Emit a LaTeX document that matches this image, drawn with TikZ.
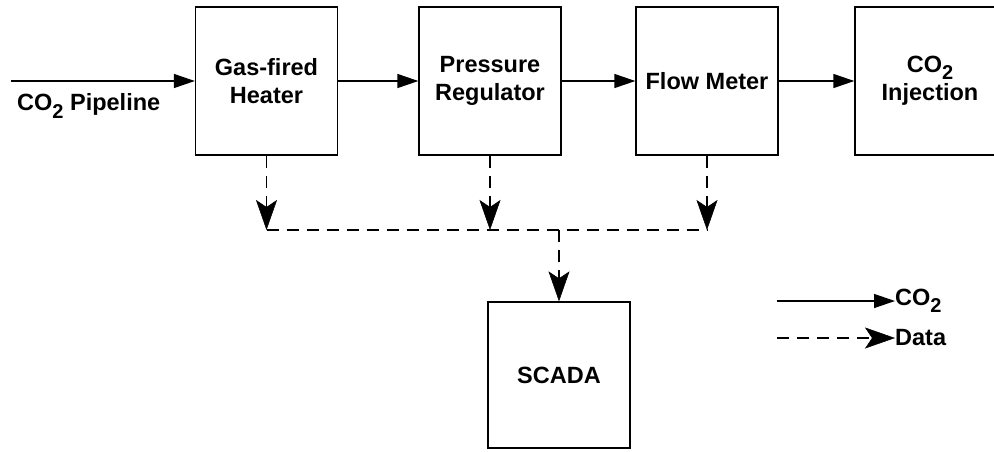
\documentclass[tikz,border=0pt]{standalone}
\usepackage{fontspec}
\setmainfont{Liberation Sans}
\usetikzlibrary{arrows.meta}
\newcommand{\cotwo}{CO\raisebox{-0.3em}{\fontsize{20}{20}\selectfont 2}}

\begin{document}
\begin{tikzpicture}[x=1pt,y=-1pt,
  unit/.style={shape=rectangle,draw=black,line width=1.3pt,minimum width=142pt,minimum height=148pt,align=center,inner sep=0pt},
  co2flow/.style={draw=black,line width=1.3pt,-{Triangle[length=21pt,width=14pt]}},
  dataflow/.style={draw=black,line width=1.3pt,dash pattern=on 12pt off 8pt,-{Stealth[length=30pt,width=21pt,inset=7pt,line width=0.5pt,fill=black]}},
  databus/.style={draw=black,line width=1.3pt,dash pattern=on 12pt off 8pt},
  every node/.style={font=\fontsize{23.5}{28}\selectfont\bfseries}]
\useasboundingbox (0,0) rectangle (994,451);

\node[unit] (heater) at (266.5,81) {Gas-fired\\Heater};
\node[unit] (regulator) at (490,81) {Pressure\\Regulator};
\node[unit] (meter) at (707,81) {Flow Meter};
\node[unit,minimum width=150pt] (injection) at (930,81) {\cotwo\\Injection};
\node[unit,minimum height=146pt] (scada) at (559,375) {SCADA};

\coordinate (pipein) at (11,81);
\node[anchor=west,inner sep=0pt] (pipelabel) at (17,106) {\cotwo{} Pipeline};

\draw[co2flow] (pipein) -- (heater.west);
\draw[co2flow] (heater.east) -- (regulator.west);
\draw[co2flow] (regulator.east) -- (meter.west);
\draw[co2flow] (meter.east) -- (injection.west);

\coordinate (bus) at (0,230);
\coordinate (busheater) at (heater.south |- bus);
\coordinate (busregulator) at (regulator.south |- bus);
\coordinate (busmeter) at (meter.south |- bus);
\coordinate (busscada) at (scada.north |- bus);

\draw[dataflow] (heater.south) -- (busheater);
\draw[dataflow] (regulator.south) -- (busregulator);
\draw[dataflow] (meter.south) -- (busmeter);
\draw[databus] (busheater) -- (busmeter);
\draw[dataflow] (busscada) -- (scada.north);

\node[anchor=west,inner sep=0pt] (legco2) at (895,301) {\cotwo};
\node[anchor=west,inner sep=0pt] (legdata) at (895,338) {Data};
\coordinate (legco2start) at (777,301);
\coordinate (legdatastart) at (777,338);
\draw[co2flow] (legco2start) -- (legco2.west);
\draw[dataflow] (legdatastart) -- (legdata.west);
\end{tikzpicture}
\end{document}
